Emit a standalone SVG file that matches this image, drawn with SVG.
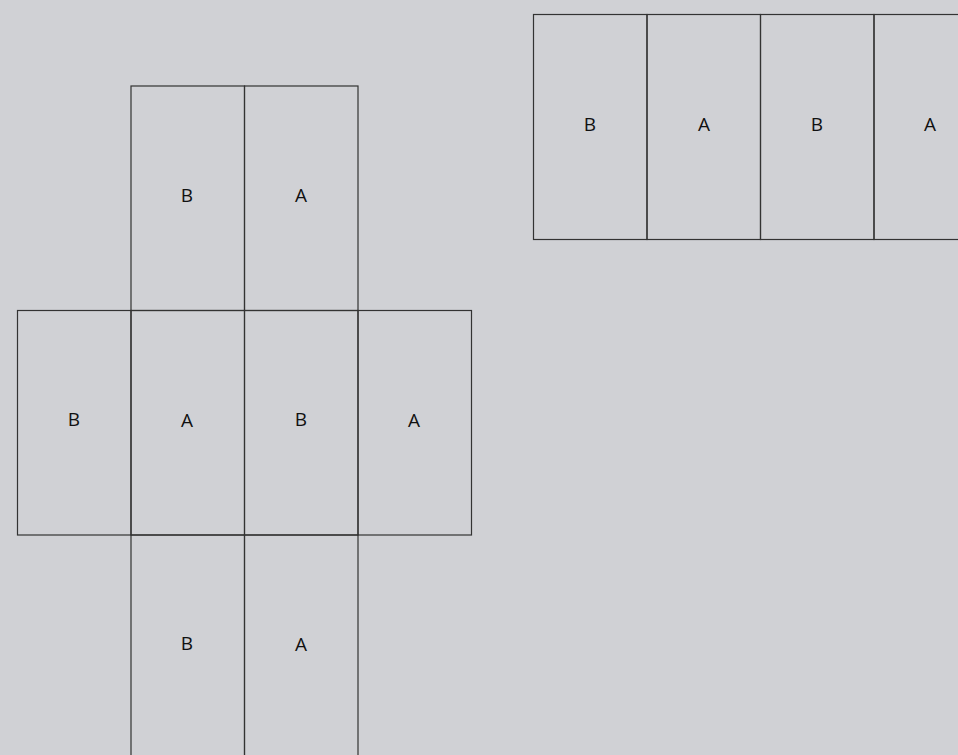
<svg xmlns="http://www.w3.org/2000/svg" width="958" height="755" viewBox="0 0 958 755">
<style>
.c{fill:none;stroke:#333;stroke-width:1.2}
.t{font-family:"Open Sans","Noto Sans",sans-serif;font-size:19px;fill:#111;text-anchor:middle;dominant-baseline:central}
</style>
<rect width="958" height="755" fill="#d0d1d5"/>
<g id="strip">
<g id="s1"><rect class="c" x="533.5" y="14.5" width="113.5" height="225"/><text class="t" x="590" y="124">B</text></g>
<g id="s2"><rect class="c" x="647" y="14.5" width="113.5" height="225"/><text class="t" x="704" y="124">A</text></g>
<g id="s3"><rect class="c" x="760.5" y="14.5" width="113.5" height="225"/><text class="t" x="817" y="124">B</text></g>
<g id="s4"><rect class="c" x="874" y="14.5" width="113.5" height="225"/><text class="t" x="930" y="124">A</text></g>
</g>
<g id="net">
<g id="n1"><rect class="c" x="131" y="86" width="113.5" height="224.5"/><text class="t" x="187" y="195">B</text></g>
<g id="n2"><rect class="c" x="244.5" y="86" width="113.5" height="224.5"/><text class="t" x="301" y="195">A</text></g>
<g id="n3"><rect class="c" x="17.5" y="310.5" width="113.5" height="224.5"/><text class="t" x="74" y="419">B</text></g>
<g id="n4"><rect class="c" x="131" y="310.5" width="113.5" height="224.5"/><text class="t" x="187" y="420">A</text></g>
<g id="n5"><rect class="c" x="244.5" y="310.5" width="113.5" height="224.5"/><text class="t" x="301" y="419">B</text></g>
<g id="n6"><rect class="c" x="358" y="310.5" width="113.5" height="224.5"/><text class="t" x="414" y="420">A</text></g>
<g id="n7"><rect class="c" x="131" y="535" width="113.5" height="224.5"/><text class="t" x="187" y="643">B</text></g>
<g id="n8"><rect class="c" x="244.5" y="535" width="113.5" height="224.5"/><text class="t" x="301" y="644">A</text></g>
</g>
</svg>
